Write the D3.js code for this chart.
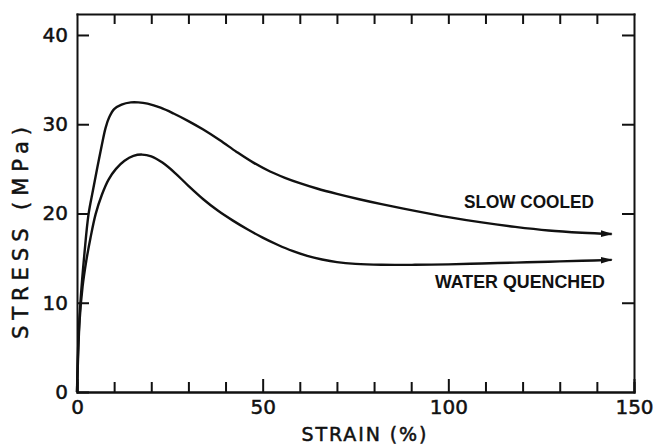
<!DOCTYPE html>
<html>
<head>
<meta charset="utf-8">
<script src="https://cdn.jsdelivr.net/npm/d3@7"></script>
<style>
body { margin: 0; background: #fff; }
svg { display: block; }
.tick text { font-family: "DejaVu Sans", sans-serif; font-size: 20px; fill: #111; stroke: #111; stroke-width: 0.5px; }
.axis path, .axis line { stroke: #111; stroke-width: 2px; }
</style>
</head>
<body>
<svg></svg>
<script>
// strain (%) and stress (MPa)
var slowX = [0, 0.4, 1.0, 2.0, 3.1, 4.3, 5.5, 6.7, 7.7, 8.7, 10, 12, 14.5, 16.5, 19, 22.5, 26, 30, 34, 38.5, 43, 47.5, 52, 56, 60, 64.6, 70, 76, 82, 91, 100, 109, 118, 127, 136, 144]
var slowY = [0, 6, 10.5, 15.5, 19.9, 22.6, 25.2, 27.7, 29.6, 30.8, 31.7, 32.2, 32.45, 32.45, 32.3, 31.85, 31.2, 30.35, 29.4, 28.2, 26.9, 25.7, 24.7, 24.0, 23.4, 22.8, 22.2, 21.6, 21.05, 20.3, 19.6, 19.0, 18.5, 18.1, 17.85, 17.7]
var waterX = [0, 0.3, 0.7, 1.5, 2.5, 3.6, 5.0, 6.7, 8.5, 10.5, 12.8, 15.2, 17.5, 20, 23, 26.5, 30, 34, 38, 42, 46, 50, 54, 58, 62, 66, 70, 75, 82, 91, 100, 109, 118, 127, 136, 144]
var waterY = [0, 4, 8, 11.8, 14.7, 17.2, 19.9, 22.1, 23.8, 25.0, 25.9, 26.45, 26.6, 26.4, 25.7, 24.5, 23.1, 21.6, 20.3, 19.2, 18.2, 17.3, 16.5, 15.8, 15.25, 14.85, 14.55, 14.35, 14.25, 14.25, 14.3, 14.4, 14.5, 14.6, 14.7, 14.8]

var xMinor = [0, 10, 20, 30, 40, 60, 70, 80, 90, 110, 120, 130, 140, 150]
var xMajor = [0, 50, 100, 150]
var yTicks = [0, 10, 20, 30, 40]
var xTitle = "STRAIN (%)"
var yTitle = "STRESS (MPa)"
var seriesNames = ["SLOW COOLED", "WATER QUENCHED"]

var margins = {"top": 14, "left": 77, "bottom": 54, "right": 24}
var width = 658 - margins.left - margins.right
var height = 446 - margins.top - margins.bottom

var svg = d3.select("svg").attr("width", 658).attr("height", 446)

var xScale = d3.scaleLinear().domain([0, 150]).range([0, width])
var yScale = d3.scaleLinear().domain([0, 42.35]).range([height, 0])

svg.append("defs").append("marker")
.attr("id", "arrow")
.attr("markerUnits", "userSpaceOnUse")
.attr("markerWidth", 13).attr("markerHeight", 8)
.attr("refX", 11).attr("refY", 4)
.attr("orient", "auto")
.append("path")
.attr("d", "M0,0.6 L12,4 L0,7.4 Z")
.attr("fill", "#111")

var g = svg.append("g").attr("transform", "translate(" + margins.left + "," + margins.top + ")")

//frame with inward ticks on all sides
g.append("g").attr("class", "axis")
.attr("transform", "translate(0," + height + ")")
.call(d3.axisBottom(xScale).tickValues(xMinor).tickSizeInner(-10).tickSizeOuter(0).tickFormat(""))
g.append("g").attr("class", "axis")
.attr("transform", "translate(0," + height + ")")
.call(d3.axisBottom(xScale).tickValues(xMajor).tickSizeInner(-13).tickSizeOuter(0).tickPadding(8))
g.append("g").attr("class", "axis")
.call(d3.axisTop(xScale).tickValues(d3.range(10, 150, 10)).tickSizeInner(-10).tickSizeOuter(0).tickFormat(""))
g.append("g").attr("class", "axis")
.call(d3.axisLeft(yScale).tickValues(yTicks).tickSizeInner(-12).tickSizeOuter(0).tickPadding(9))
g.append("g").attr("class", "axis")
.attr("transform", "translate(" + width + ",0)")
.call(d3.axisRight(yScale).tickValues(yTicks.slice(1)).tickSizeInner(-12).tickSizeOuter(0).tickFormat(""))

g.selectAll(".axis .domain").attr("stroke-linecap", "square")

var line = d3.line()
.x(function(d){return xScale(d[0])})
.y(function(d){return yScale(d[1])})
.curve(d3.curveCatmullRom.alpha(0.5))

var curves = [d3.zip(slowX, slowY), d3.zip(waterX, waterY)]

g.selectAll("path.curve")
.data(curves)
.enter()
.append("path")
.attr("class", "curve")
.attr("d", line)
.attr("fill", "none")
.attr("stroke", "#111")
.attr("stroke-width", 2.4)
.attr("marker-end", "url(#arrow)")

//curve labels
g.append("text")
.attr("x", xScale(104.2)).attr("y", yScale(20.6))
.attr("textLength", 130).attr("lengthAdjust", "spacingAndGlyphs")
.style("font-family", "Liberation Sans, sans-serif").style("font-weight", "bold").style("font-size", "18px")
.attr("fill", "#111")
.text(seriesNames[0])

g.append("text")
.attr("x", xScale(96.4)).attr("y", yScale(11.7))
.attr("textLength", 170).attr("lengthAdjust", "spacingAndGlyphs")
.style("font-family", "Liberation Sans, sans-serif").style("font-weight", "bold").style("font-size", "18px")
.attr("fill", "#111")
.text(seriesNames[1])

//axis titles
svg.append("text")
.attr("x", 364).attr("y", 441)
.attr("text-anchor", "middle")
.attr("textLength", 125).attr("lengthAdjust", "spacing")
.style("font-family", "DejaVu Sans, sans-serif").style("font-size", "19px")
.attr("fill", "#111").attr("stroke", "#111").attr("stroke-width", 0.5)
.text(xTitle)

svg.append("text")
.attr("transform", "translate(28,233) rotate(-90)")
.attr("text-anchor", "middle")
.attr("textLength", 212).attr("lengthAdjust", "spacing")
.style("font-family", "DejaVu Sans, sans-serif").style("font-size", "21px")
.attr("fill", "#111").attr("stroke", "#111").attr("stroke-width", 0.5)
.text(yTitle)
</script>
</body>
</html>
